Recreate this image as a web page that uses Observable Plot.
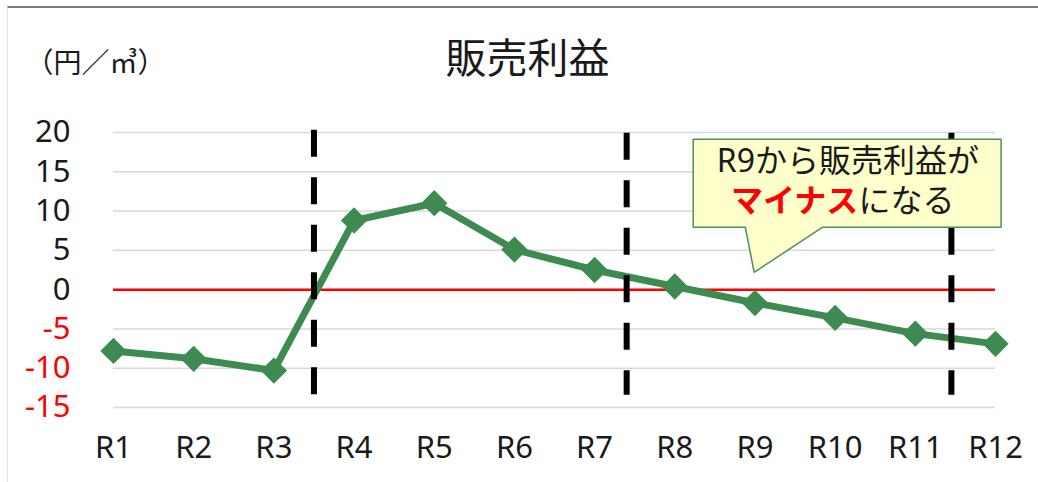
<!DOCTYPE html>
<html>
<head>
<meta charset="utf-8">
<script src="https://cdn.jsdelivr.net/npm/d3@7"></script>
<script src="https://cdn.jsdelivr.net/npm/@observablehq/plot@0.6"></script>
<style>
  html, body { margin: 0; padding: 0; background: white; }
  #wrap { position: relative; width: 1038px; height: 482px; overflow: hidden; }
  #border { position: absolute; left: 7px; top: 6px; right: -2px; bottom: -2px;
            border-top: 2px solid #7a7a7a; border-left: 1px solid #e4e4e4; pointer-events: none; }
</style>
</head>
<body>
<div id="wrap"><div id="border"></div></div>
<script>
// ---- data ----
const categories = ["R1","R2","R3","R4","R5","R6","R7","R8","R9","R10","R11","R12"];
const profit = [-7.8, -8.8, -10.3, 8.8, 11.0, 5.1, 2.5, 0.4, -1.7, -3.6, -5.6, -6.9];
const yTicks = [20, 15, 10, 5, 0, -5, -10, -15];
const yTickLabels = ["20", "15", "10", "5", "0", "-5", "-10", "-15"];
const dividerX = [3.5, 7.4, 11.45];
const dividerTop = [20.3, 19.9, 19.9];
const dividerBottom = -13.45;
const title = "販売利益";
const unitLabel = "（円／㎥）";
const calloutLine1 = "R9から販売利益が";
const calloutLine2a = "マイナス";
const calloutLine2b = "になる";
// callout outline in data coordinates (box with pointer toward R9)
const calloutX = [8.23, 12.07, 12.07, 9.84, 8.99, 8.88, 8.23, 8.23];
const calloutY = [19.15, 19.15, 7.94, 7.94, 2.2, 7.94, 7.94, 19.15];

const pts = categories.map((c, i) => ({x: i + 1, y: profit[i], c}));
const ticks = yTicks.map((v, i) => ({v, label: yTickLabels[i]}));
const xl = categories.map((c, i) => ({x: i + 1, c}));
const dividers = dividerX.map((x, i) => ({x, top: dividerTop[i], bottom: dividerBottom}));
const callout = calloutX.map((x, i) => ({x, y: calloutY[i]}));

const green = "#3d8b51";
const font = "'Noto Sans', 'Noto Sans CJK JP', sans-serif";
const ink = "#1a1a1a";

const chart = Plot.plot({
  width: 1038,
  height: 482,
  marginLeft: 113,
  marginRight: 43,
  marginTop: 132,
  marginBottom: 75,
  x: {domain: [1, 12], axis: null},
  y: {domain: [-15, 20], axis: null},
  style: {fontFamily: font, background: "transparent", overflow: "visible"},
  marks: [
    Plot.ruleY(yTicks.filter(v => v !== 0), {stroke: "#d9d9d9", strokeWidth: 1.5}),
    Plot.ruleY([0], {stroke: "#ff0000", strokeWidth: 2.5}),
    Plot.line(pts, {x: "x", y: "y", stroke: green, strokeWidth: 7, strokeLinejoin: "round"}),
    Plot.dot(pts, {x: "x", y: "y", symbol: "square", rotate: 45, r: 10.5, fill: green, stroke: "none"}),
    Plot.ruleX(dividers, {x: "x", y1: "top", y2: "bottom", stroke: "#000", strokeWidth: 6, strokeDasharray: "27,20.5"}),
    Plot.line(callout, {x: "x", y: "y", fill: "#ffffcc", stroke: "#4e8f5a", strokeWidth: 1.5, strokeLinejoin: "miter"}),
    Plot.text([calloutLine1], {x: 10.16, y: 16.3, text: d => d, fontSize: 32, fill: ink, lineAnchor: "middle"}),
    Plot.text([calloutLine2a], {x: 10.29, y: 11.2, text: d => d, fontSize: 32, fontWeight: "bold", fill: "#ff0000", textAnchor: "end", lineAnchor: "middle"}),
    Plot.text([calloutLine2b], {x: 10.29, y: 11.2, text: d => d, fontSize: 32, fill: ink, textAnchor: "start", lineAnchor: "middle"}),
    Plot.text(ticks, {y: "v", text: "label", frameAnchor: "left", textAnchor: "end", lineAnchor: "middle", dx: -43, fontSize: 31,
      fill: d => d.v < 0 ? "#ff0000" : ink}),
    Plot.text(xl, {x: "x", text: "c", frameAnchor: "bottom", lineAnchor: "middle", dy: 41, fontSize: 31, fill: ink}),
    Plot.text([title], {frameAnchor: "top", lineAnchor: "middle", text: d => d, dx: -27, dy: -73, fontSize: 41, fill: ink}),
    Plot.text([unitLabel], {frameAnchor: "top-left", lineAnchor: "middle", text: d => d, textAnchor: "start", dx: -88, dy: -68, fontSize: 28, fill: ink})
  ]
});
chart.style.position = "absolute";
chart.style.left = "0px";
chart.style.top = "0px";
const wrap = document.getElementById("wrap");
wrap.insertBefore(chart, wrap.firstChild);
</script>
</body>
</html>
